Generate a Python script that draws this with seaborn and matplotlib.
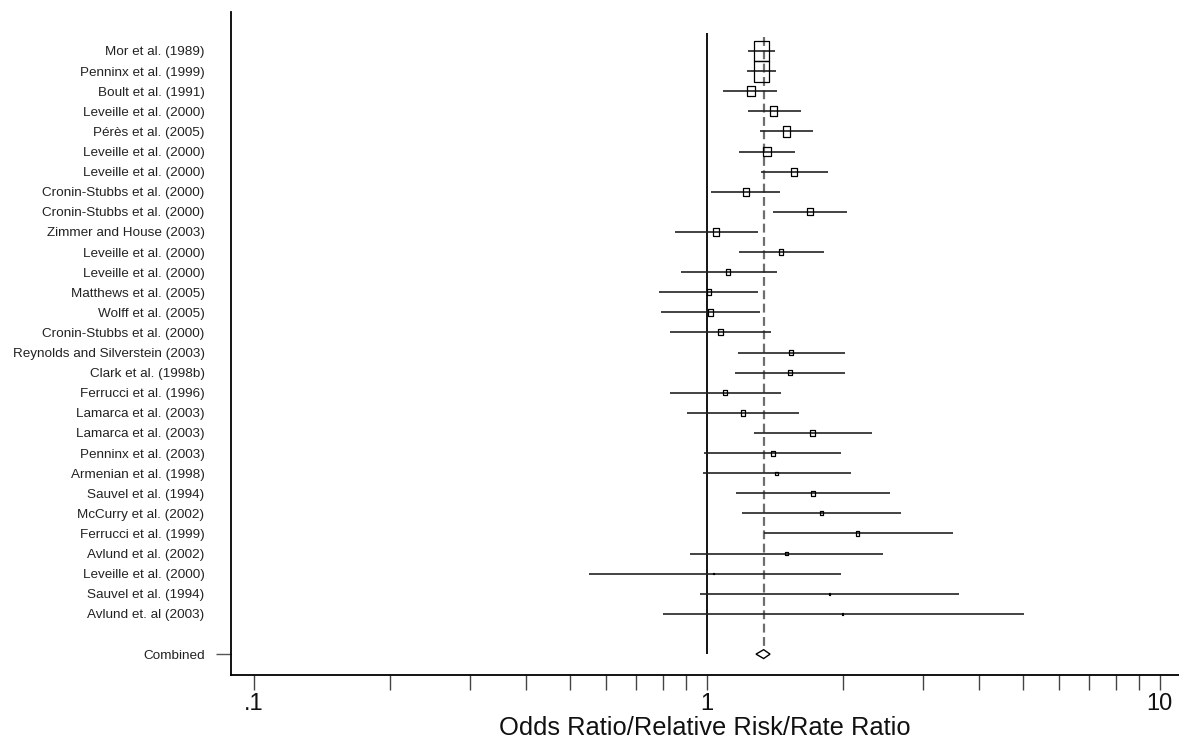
import numpy as np
import matplotlib
matplotlib.use("Agg")
import matplotlib.pyplot as plt
from matplotlib.markers import MarkerStyle
from matplotlib.ticker import FixedLocator, FixedFormatter, NullFormatter
import seaborn as sns

# -----------------------------
# Data
# -----------------------------
studies = [
    "Mor et al. (1989)", "Penninx et al. (1999)", "Boult et al. (1991)",
    "Leveille et al. (2000)", "Pérès et al. (2005)", "Leveille et al. (2000)",
    "Leveille et al. (2000)", "Cronin-Stubbs et al. (2000)", "Cronin-Stubbs et al. (2000)",
    "Zimmer and House (2003)", "Leveille et al. (2000)", "Leveille et al. (2000)",
    "Matthews et al. (2005)", "Wolff et al. (2005)", "Cronin-Stubbs et al. (2000)",
    "Reynolds and Silverstein (2003)", "Clark et al. (1998b)", "Ferrucci et al. (1996)",
    "Lamarca et al. (2003)", "Lamarca et al. (2003)", "Penninx et al. (2003)",
    "Armenian et al. (1998)", "Sauvel et al. (1994)", "McCurry et al. (2002)",
    "Ferrucci et al. (1999)", "Avlund et al. (2002)", "Leveille et al. (2000)",
    "Sauvel et al. (1994)", "Avlund et. al (2003)",
]
estimate = [1.321, 1.321, 1.254, 1.408, 1.502, 1.360, 1.558, 1.221, 1.692, 1.049,
            1.460, 1.117, 1.012, 1.022, 1.074, 1.535, 1.531, 1.099, 1.206, 1.714,
            1.401, 1.427, 1.718, 1.797, 2.154, 1.503, 1.036, 1.869, 1.996]
ci_low = [1.233, 1.229, 1.089, 1.233, 1.312, 1.178, 1.317, 1.023, 1.404, 0.852,
          1.178, 0.877, 0.787, 0.795, 0.832, 1.174, 1.156, 0.832, 0.906, 1.273,
          0.987, 0.982, 1.162, 1.198, 1.337, 0.920, 0.550, 0.969, 0.800]
ci_high = [1.417, 1.422, 1.429, 1.614, 1.716, 1.568, 1.852, 1.451, 2.045, 1.297,
           1.814, 1.431, 1.297, 1.312, 1.390, 2.022, 2.022, 1.458, 1.603, 2.316,
           1.978, 2.081, 2.538, 2.683, 3.495, 2.449, 1.978, 3.609, 5.015]
weight = [22.3, 22.3, 5.0, 4.7, 5.6, 5.0, 3.4, 3.4, 2.7, 2.7,
          2.1, 1.8, 1.8, 2.1, 1.8, 1.3, 1.5, 1.5, 1.5, 1.8,
          1.3, 0.5, 1.0, 0.9, 0.9, 0.7, 0.1, 0.3, 0.1]

combined_est = 1.337
combined_low = 1.286
combined_high = 1.381

major_ticks = [0.1, 1, 10]
major_labels = [".1", "1", "10"]
minor_ticks = [0.2, 0.3, 0.4, 0.5, 0.6, 0.7, 0.8, 0.9, 2, 3, 4, 5, 6, 7, 8, 9]

# -----------------------------
# Style
# -----------------------------
sns.set_theme(style="white")
plt.rcParams["font.family"] = ["Liberation Sans", "DejaVu Sans"]

rows = np.arange(len(studies))
combined_row = len(studies) + 1

fig = plt.figure(figsize=(11.79, 7.40), dpi=100)
ax = fig.add_axes([0.1957, 0.0878, 0.8043, 0.896])
ax.set_xscale("log")

# reference lines
ax.vlines(1, -0.9, combined_row, color="black", lw=1.3, zorder=1)
ax.vlines(combined_est, -0.7, combined_row - 0.3, color="#6e6e6e", lw=1.6,
          linestyles=(0, (4, 2)), zorder=1)

# confidence intervals
ax.hlines(rows, ci_low, ci_high, color="#222222", lw=1.2, zorder=2)

# weighted boxes (rectangular, as in the original export)
box = MarkerStyle(np.array([[-1, -1.37], [1, -1.37], [1, 1.37], [-1, 1.37], [-1, -1.37]]))
sns.scatterplot(x=estimate, y=rows, size=weight, sizes=(0, 1023), size_norm=(0, 100),
                marker=box, facecolor="none", edgecolor="black", linewidth=0.9,
                legend=False, ax=ax, zorder=3)
for coll in ax.collections[-1:]:
    coll.set_facecolor("none")

# combined diamond
ax.fill([combined_low, combined_est, combined_high, combined_est],
        [combined_row, combined_row - 0.22, combined_row, combined_row + 0.22],
        facecolor="white", edgecolor="black", lw=1.0, zorder=4)

# -----------------------------
# Axes
# -----------------------------
ax.set_xlim(0.08906, 11.04)
ax.set_ylim(31.04, -1.94)

ax.xaxis.set_major_locator(FixedLocator(major_ticks))
ax.xaxis.set_major_formatter(FixedFormatter(major_labels))
ax.xaxis.set_minor_locator(FixedLocator(minor_ticks))
ax.xaxis.set_minor_formatter(NullFormatter())
ax.tick_params(axis="x", which="both", direction="out", length=10.8, width=1.0,
               color="#444444", bottom=True, pad=2, labelsize=17, labelcolor="#111111")

ax.set_yticks(list(rows) + [combined_row])
ax.set_yticklabels(studies + ["Combined"], fontsize=9.7, color="#222222")
ax.tick_params(axis="y", which="major", direction="out", length=10.8, width=1.0,
               color="#555555", left=True, pad=8)
for t in ax.yaxis.get_major_ticks()[:-1]:
    t.tick1line.set_visible(False)

ax.set_xlabel("Odds Ratio/Relative Risk/Rate Ratio", fontsize=18.4, color="#111111",
              labelpad=0.5)

for side in ["top", "right"]:
    ax.spines[side].set_visible(False)
for side in ["left", "bottom"]:
    ax.spines[side].set_color("black")
    ax.spines[side].set_linewidth(1.3)

fig.savefig("out.png", dpi=100)
